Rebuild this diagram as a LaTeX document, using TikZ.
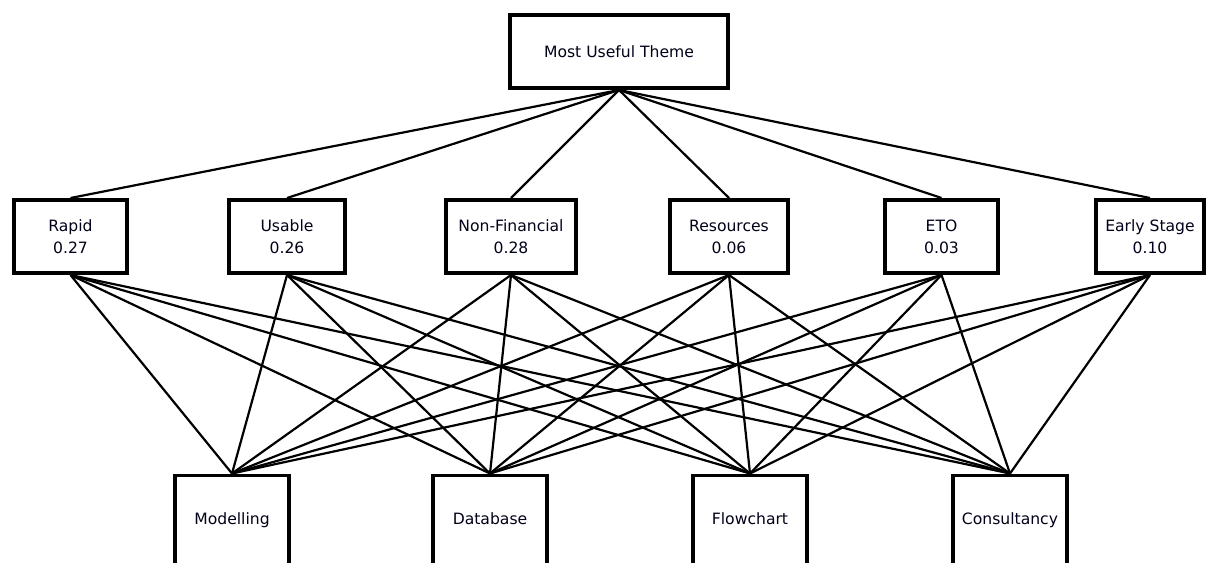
\documentclass[tikz,border=0pt]{standalone}
\usepackage{fontspec}
\setmainfont{DejaVu Sans}
\begin{document}
\begin{tikzpicture}[x=1pt,y=-1pt,
  boxtext/.style={font=\fontsize{15.6}{22}\selectfont, text=black!90!blue, align=center},
  themebox/.style={draw, line width=4pt, fill=white, inner sep=0pt, minimum width=218pt, minimum height=73pt, boxtext},
  critbox/.style={draw, line width=4pt, fill=white, inner sep=0pt, minimum height=73pt, boxtext},
  optbox/.style={draw, line width=3.5pt, fill=white, inner sep=0pt, minimum width=114pt, minimum height=130pt, anchor=north},
  optlabel/.style={boxtext, anchor=base},
  link/.style={line width=2.2pt}]
\useasboundingbox (0,0) rectangle (1206,562);
\clip (0,0) rectangle (1206,562);

% goal
\node[themebox] (goal) at (619,51.5) {Most Useful Theme};

% criteria with weights
\node[critbox, minimum width=113pt] (rapid) at (70.5,236.5) {Rapid\\0.27};
\node[critbox, minimum width=116pt] (usable) at (287,236.5) {Usable\\0.26};
\node[critbox, minimum width=130pt] (nonfin) at (511,236.5) {Non-Financial\\0.28};
\node[critbox, minimum width=118pt] (resources) at (729,236.5) {Resources\\0.06};
\node[critbox, minimum width=113pt] (eto) at (941.5,236.5) {ETO\\0.03};
\node[critbox, minimum width=108pt] (early) at (1150,236.5) {Early Stage\\0.10};

% alternatives
\node[optbox] (modelling) at (232,473.5) {};
\node[optbox] (database) at (490,473.5) {};
\node[optbox] (flowchart) at (750,473.5) {};
\node[optbox] (consult) at (1010,473.5) {};
\node[optlabel] at ([yshift=-51pt]modelling.north) {Modelling};
\node[optlabel] at ([yshift=-51pt]database.north) {Database};
\node[optlabel] at ([yshift=-51pt]flowchart.north) {Flowchart};
\node[optlabel] at ([yshift=-51pt]consult.north) {Consultancy};

% goal to criteria
\foreach \c in {rapid,usable,nonfin,resources,eto,early}
  \draw[link] (goal.south) -- (\c.north);

% criteria to alternatives
\foreach \c in {rapid,usable,nonfin,resources,eto,early}
  \foreach \a in {modelling,database,flowchart,consult}
    \draw[link] (\c.south) -- (\a.north);
\end{tikzpicture}
\end{document}
